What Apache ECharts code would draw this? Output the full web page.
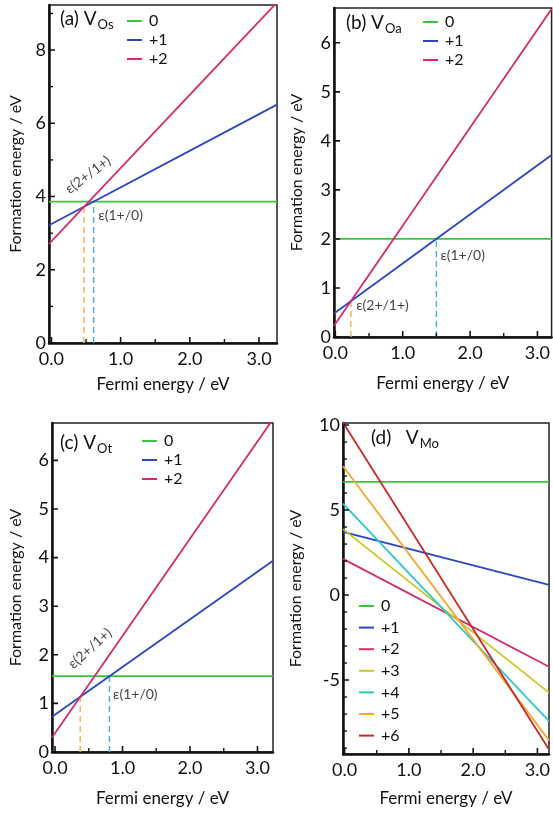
<!DOCTYPE html>
<html><head><meta charset="utf-8">
<script src="https://cdn.jsdelivr.net/npm/echarts@6/dist/echarts.min.js"></script>
<style>html,body{margin:0;padding:0;background:#fff}#c{width:553px;height:814px}</style>
</head><body><div id="c"></div>
<script>
// ---------------- data ----------------
const charges = ['0', '+1', '+2', '+3', '+4', '+5', '+6'];
const chargeColors = ['#3cc43c', '#2848c0', '#d42a70', '#c8c822', '#2ec8c8', '#f0a830', '#c82a2a'];

// (a) V_Os
const aX = [-0.035, 3.26];
const aQ0 = [3.86, 3.86];
const aQ1 = [3.215, 6.51];
const aQ2 = [2.71, 9.30];
const aCrossX = [0.47, 0.61];
const aCrossY = [3.72, 3.86];
const aYRange = [0, 9.23];
const aYLabels = [0, 2, 4, 6, 8];
const aYMinor = [1, 3, 5, 7, 9];

// (b) V_Oa
const bX = [-0.02, 3.21];
const bQ0 = [2.0, 2.0];
const bQ1 = [0.48, 3.71];
const bQ2 = [0.23, 6.69];
const bCrossX = [0.23, 1.5];
const bCrossY = [0.73, 2.0];
const bYRange = [0, 6.71];
const bYLabels = [0, 1, 2, 3, 4, 5, 6];
const bYMinor = [];

// (c) V_Ot
const cX = [-0.045, 3.23];
const cQ0 = [1.56, 1.56];
const cQ1 = [0.726, 3.935];
const cQ2 = [0.30, 6.85];
const cCrossX = [0.373, 0.806];
const cCrossY = [1.135, 1.56];
const cYRange = [0, 6.77];
const cYLabels = [0, 1, 2, 3, 4, 5, 6];
const cYMinor = [];

// (d) V_Mo
const dX = [-0.025, 3.18];
const dQ0 = [6.66, 6.66];
const dQ1 = [3.72, 0.60];
const dQ2 = [2.13, -4.22];
const dQ3 = [3.88, -5.74];
const dQ4 = [5.38, -7.41];
const dQ5 = [7.58, -8.55];
const dQ6 = [10.15, -9.08];
const dYRange = [-9.35, 10.12];
const dYLabels = [-5, 0, 5, 10];
const dYMinor = [-9, -8, -7, -6, -4, -3, -2, -1, 1, 2, 3, 4, 6, 7, 8, 9];

const xLabels = [0, 1, 2, 3];
const xMinor = [0.5, 1.5, 2.5];

// annotation labels [x, y, text, rotate]
const aNotes = [[0.53, 4.59, 'ε(2+/1+)', 37], [1.00, 3.47, 'ε(1+/0)', 0]];
const bNotes = [[0.70, 0.65, 'ε(2+/1+)', 0], [1.89, 1.67, 'ε(1+/0)', 0]];
const cNotes = [[0.52, 2.13, 'ε(2+/1+)', 42], [1.19, 1.19, 'ε(1+/0)', 0]];

// ---------------- chart ----------------
const F = 'Lato';
const INK = '#111';
const crossColors = ['#f2b450', '#4ab4e0'];
const MAJ = 6, MIN = 4;   // tick lengths in px

const panels = [
  { grid: { left: 49, top: 5, width: 228, height: 338 }, x: aX, ys: [aQ0, aQ1, aQ2], cx: aCrossX, cy: aCrossY,
    yr: aYRange, yl: aYLabels, ym: aYMinor, notes: aNotes, yGap: 25, xGap: 33 },
  { grid: { left: 334, top: 8, width: 218, height: 329 }, x: bX, ys: [bQ0, bQ1, bQ2], cx: bCrossX, cy: bCrossY,
    yr: bYRange, yl: bYLabels, ym: bYMinor, notes: bNotes, yGap: 29, xGap: 38 },
  { grid: { left: 52, top: 423, width: 221, height: 329 }, x: cX, ys: [cQ0, cQ1, cQ2], cx: cCrossX, cy: cCrossY,
    yr: cYRange, yl: cYLabels, ym: cYMinor, notes: cNotes, yGap: 28, xGap: 38 },
  { grid: { left: 343, top: 423, width: 208, height: 331 }, x: dX, ys: [dQ0, dQ1, dQ2, dQ3, dQ4, dQ5, dQ6], cx: [], cy: [],
    yr: dYRange, yl: dYLabels, ym: dYMinor, notes: [], yGap: 39, xGap: 36 }
];

const grids = [], xAxes = [], yAxes = [], series = [];
panels.forEach((p, gi) => {
  grids.push(Object.assign({ show: true, borderColor: '#222', borderWidth: 1.5, backgroundColor: 'transparent' }, p.grid));
  xAxes.push({
    type: 'value', gridIndex: gi, position: 'bottom', min: p.x[0], max: p.x[1],
    name: 'Fermi energy / eV', nameLocation: 'middle', nameGap: p.xGap,
    nameTextStyle: { fontFamily: F, fontSize: 17, color: INK },
    axisLine: { show: true, onZero: false, lineStyle: { color: INK, width: 2.5 } },
    axisTick: { show: false },
    axisLabel: { show: true, fontFamily: F, fontSize: 18, color: INK, margin: 7, customValues: xLabels,
      formatter: v => Number(v).toFixed(1) },
    splitLine: { show: false }
  });
  yAxes.push({
    type: 'value', gridIndex: gi, position: 'left', min: p.yr[0], max: p.yr[1],
    name: 'Formation energy / eV', nameLocation: 'middle', nameGap: p.yGap,
    nameTextStyle: { fontFamily: F, fontSize: 16, color: INK },
    axisLine: { show: true, onZero: false, lineStyle: { color: INK, width: 2.5 } },
    axisTick: { show: false },
    axisLabel: { show: true, fontFamily: F, fontSize: 18, color: INK, margin: 3, customValues: p.yl },
    splitLine: { show: false }
  });
  // inward tick marks as short line segments through the axes' scales
  const yPerPx = (p.yr[1] - p.yr[0]) / p.grid.height;
  const xPerPx = (p.x[1] - p.x[0]) / p.grid.width;
  const addTick = (pts, w) => series.push({
    type: 'line', xAxisIndex: gi, yAxisIndex: gi, silent: true, symbol: 'none', clip: false,
    lineStyle: { color: INK, width: w, type: 'solid' }, data: pts
  });
  xLabels.forEach(v => addTick([[v, p.yr[0]], [v, p.yr[0] + MAJ * yPerPx]], 1.6));
  xMinor.forEach(v => addTick([[v, p.yr[0]], [v, p.yr[0] + MIN * yPerPx]], 1.4));
  p.yl.forEach(v => addTick([[p.x[0], v], [p.x[0] + MAJ * xPerPx, v]], 1.6));
  p.ym.forEach(v => addTick([[p.x[0], v], [p.x[0] + MIN * xPerPx, v]], 1.4));
  // dashed transition markers
  p.cx.forEach((cxv, k) => {
    series.push({
      type: 'line', xAxisIndex: gi, yAxisIndex: gi, silent: true, symbol: 'none',
      lineStyle: { type: [6, 4], width: 1.5, color: crossColors[k] },
      data: [[cxv, 0], [cxv, p.cy[k]]], z: 1
    });
  });
  // charge-state lines
  p.ys.forEach((vals, q) => {
    series.push({
      name: charges[q], type: 'line', xAxisIndex: gi, yAxisIndex: gi, symbol: 'none', silent: true,
      lineStyle: { width: 1.8, color: chargeColors[q] }, itemStyle: { color: chargeColors[q] },
      data: [[p.x[0], vals[0]], [p.x[1], vals[1]]], clip: true, z: 2
    });
  });
  // annotations
  p.notes.forEach(n => {
    series.push({
      type: 'scatter', xAxisIndex: gi, yAxisIndex: gi, symbolSize: 0, silent: true,
      data: [[n[0], n[1]]],
      label: { show: true, position: 'inside', formatter: n[2], rotate: n[3],
        fontFamily: F, fontSize: 14, color: INK }
    });
  });
});

const legendBase = {
  orient: 'vertical', icon: 'rect', itemWidth: 15, itemHeight: 2, selectedMode: false,
  textStyle: { fontFamily: F, fontSize: 16, color: INK, padding: [0, 0, 0, 2] }
};
const legends = [
  Object.assign({}, legendBase, { left: 122, top: 8, itemGap: 3, data: charges.slice(0, 3) }),
  Object.assign({}, legendBase, { left: 418, top: 9, itemGap: 3, data: charges.slice(0, 3) }),
  Object.assign({}, legendBase, { left: 137, top: 428, itemGap: 3, data: charges.slice(0, 3) }),
  Object.assign({}, legendBase, { left: 354, top: 593, itemGap: 5.6, data: charges.slice(0, 7) })
];

const rich = {
  m: { fontFamily: F, fontSize: 19, fontWeight: 'normal', color: INK },
  s: { fontFamily: F, fontSize: 13, fontWeight: 'normal', color: INK, padding: [11, 0, 0, 1] }
};
const titles = [
  { text: '{m|(a) V}{s|Os}', left: 60, top: 7 },
  { text: '{m|(b) V}{s|Oa}', left: 346, top: 11 },
  { text: '{m|(c) V}{s|Ot}', left: 60, top: 431 },
  { text: '{m|(d)   V}{s|Mo}', left: 371, top: 426 }
].map(t => Object.assign(t, { padding: 0, textStyle: { fontWeight: 'normal', rich: rich } }));

const chart = echarts.init(document.getElementById('c'), null, { renderer: 'canvas' });
chart.setOption({
  animation: false,
  backgroundColor: '#fff',
  title: titles,
  legend: legends,
  grid: grids,
  xAxis: xAxes,
  yAxis: yAxes,
  series: series
});
</script></body></html>
